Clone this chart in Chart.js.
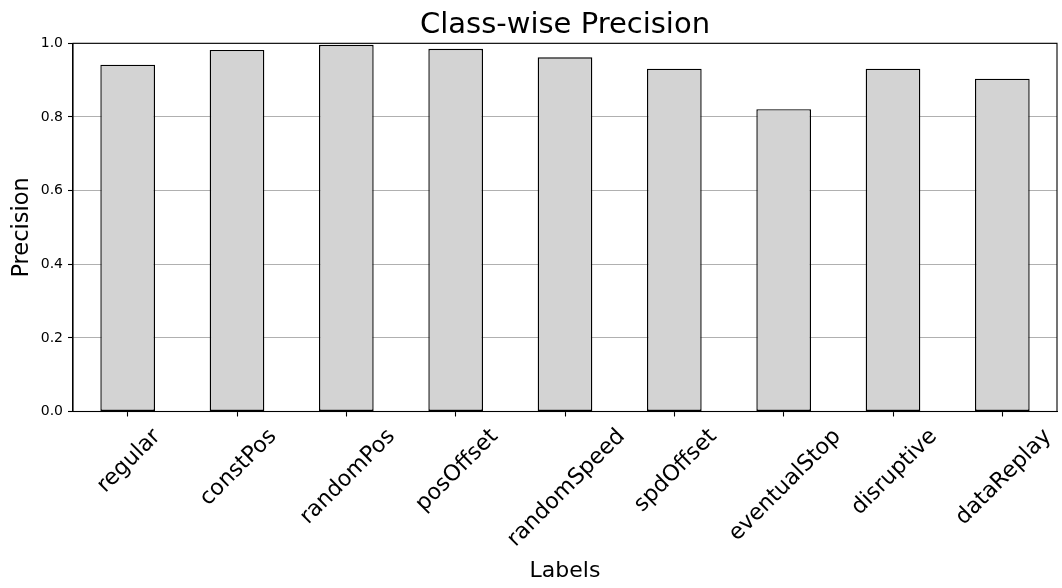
<!DOCTYPE html>
<html>
<head>
<meta charset="utf-8">
<script src="https://cdn.jsdelivr.net/npm/chart.js@4/dist/chart.umd.min.js"></script>
<style>
  html, body { margin: 0; padding: 0; background: #ffffff; }
  #wrap { width: 1062px; height: 588px; position: relative; }
</style>
</head>
<body>
<div id="wrap"><canvas id="c" width="1062" height="588"></canvas></div>
<script>
const categories = ["regular", "constPos", "randomPos", "posOffset", "randomSpeed", "spdOffset", "eventualStop", "disruptive", "dataReplay"];
const precisionValues = [0.942, 0.982, 0.996, 0.985, 0.962, 0.931, 0.821, 0.931, 0.904];
const yTickValues = [0.0, 0.2, 0.4, 0.6, 0.8, 1.0];

const FONT = "'DejaVu Sans', 'Liberation Sans', sans-serif";

const rotatedLabels = {
  id: 'rotatedLabels',
  afterDraw(chart) {
    const scale = chart.scales.x;
    const ctx = chart.ctx;
    const size = 22.2;
    ctx.save();
    ctx.font = size + 'px ' + FONT;
    ctx.fillStyle = '#000000';
    ctx.textAlign = 'center';
    ctx.textBaseline = 'middle';
    const top = scale.top + 12.5;
    const h = size * 1.16;
    scale.ticks.forEach((t, i) => {
      const label = chart.data.labels[i];
      const w = ctx.measureText(label).width;
      const x = scale.getPixelForTick(i) + 1.5;
      const cy = top + (w + h) / (2 * Math.SQRT2);
      ctx.save();
      ctx.translate(x, cy);
      ctx.rotate(-Math.PI / 4);
      ctx.fillText(label, 0, 0);
      ctx.restore();
    });
    ctx.restore();
  }
};

const frame = {
  id: 'frame',
  afterDraw(chart) {
    const a = chart.chartArea;
    const ctx = chart.ctx;
    ctx.save();
    ctx.strokeStyle = '#000000';
    ctx.lineWidth = 1.1;
    ctx.strokeRect(a.left, a.top, a.right - a.left, a.bottom - a.top);
    ctx.restore();
  }
};

new Chart(document.getElementById('c'), {
  type: 'bar',
  data: {
    labels: categories,
    datasets: [{
      label: 'Precision',
      data: precisionValues,
      backgroundColor: '#d3d3d3',
      borderColor: '#000000',
      borderWidth: 1.4,
      borderSkipped: false,
      barPercentage: 0.5,
      categoryPercentage: 1.0
    }]
  },
  options: {
    responsive: false,
    animation: false,
    devicePixelRatio: 1,
    layout: { padding: { left: 0, right: 5, top: 0, bottom: 0 } },
    plugins: {
      legend: { display: false },
      tooltip: { enabled: false },
      title: {
        display: true,
        text: 'Class-wise Precision',
        fullSize: false,
        color: '#000000',
        font: { family: FONT, size: 29, weight: 'normal', lineHeight: 1.2 },
        padding: { top: 8, bottom: 0.5 }
      }
    },
    scales: {
      x: {
        type: 'category',
        offset: true,
        afterFit(scale) { scale.height = 588 - 411.5; },
        grid: {
          display: true,
          offset: false,
          drawOnChartArea: false,
          drawTicks: true,
          tickLength: 5,
          tickColor: '#000000',
          tickWidth: 1.1
        },
        border: { display: true, color: '#000000', width: 1.1 },
        ticks: { display: false },
        title: {
          display: true,
          text: 'Labels',
          color: '#000000',
          font: { family: FONT, size: 22, lineHeight: 1.2 },
          padding: { top: 0, bottom: 3.5 }
        }
      },
      y: {
        type: 'linear',
        min: 0,
        max: 1,
        z: 1,
        afterFit(scale) { scale.width = 73; },
        afterBuildTicks(scale) { scale.ticks = yTickValues.map(v => ({ value: v })); },
        grid: {
          color: '#b0b0b0',
          lineWidth: 1,
          drawTicks: true,
          tickLength: 5,
          tickColor: '#000000',
          tickWidth: 1.1
        },
        border: { display: true, color: '#000000', width: 1.1 },
        ticks: {
          color: '#000000',
          font: { family: FONT, size: 14 },
          padding: 5,
          callback: (v) => Number(v).toFixed(1)
        },
        title: {
          display: true,
          text: 'Precision',
          color: '#000000',
          font: { family: FONT, size: 22.5, lineHeight: 1.2 },
          padding: { top: 8.5, bottom: 0 }
        }
      }
    }
  },
  plugins: [rotatedLabels, frame]
});
</script>
</body>
</html>
